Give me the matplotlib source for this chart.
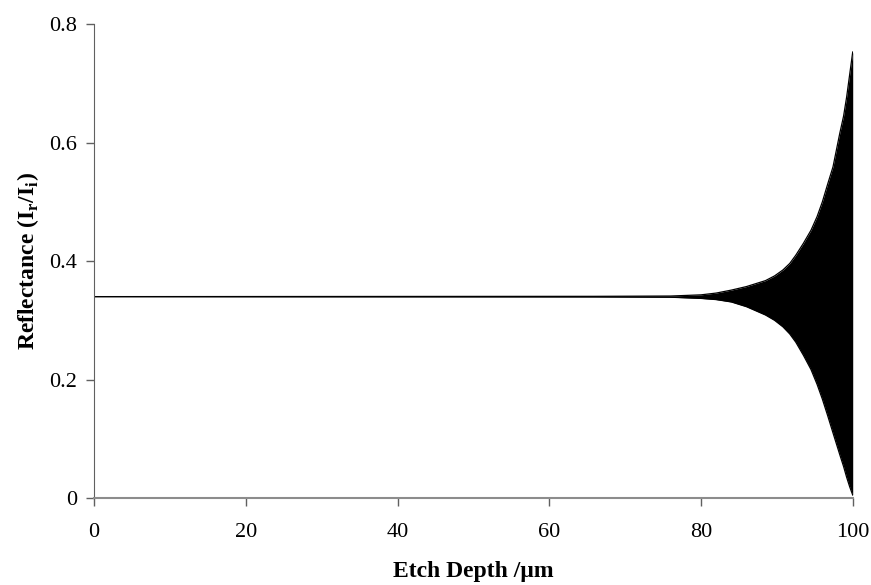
import matplotlib.pyplot as plt
import numpy as np

# envelope of the reflectance oscillation vs etch depth
depth = [0, 66, 76, 80, 82, 84, 86, 88.5, 89.7, 90.8, 91.7, 92.5, 93.5, 94.5,
         95.3, 96, 96.7, 97.4, 98.3, 98.8, 99.2, 99.6, 100]
r_max = [0.34, 0.3405, 0.341, 0.343, 0.346, 0.351, 0.357, 0.367, 0.375, 0.385, 0.396,
         0.41, 0.43, 0.452, 0.475, 0.50, 0.53, 0.559, 0.616, 0.645, 0.677, 0.715, 0.753]
r_min = [0.34, 0.3395, 0.339, 0.337, 0.335, 0.331, 0.323, 0.309, 0.300, 0.289, 0.277,
         0.263, 0.241, 0.217, 0.192, 0.167, 0.139, 0.110, 0.073, 0.053, 0.035, 0.019, 0.005]

x_ticks = [0, 20, 40, 60, 80, 100]
y_ticks = [0, 0.2, 0.4, 0.6, 0.8]
y_labels = ["0", "0.2", "0.4", "0.6", "0.8"]

plt.rcParams["font.family"] = ["Liberation Serif", "DejaVu Serif"]
plt.rcParams["mathtext.fontset"] = "custom"
plt.rcParams["mathtext.rm"] = "Liberation Serif"
plt.rcParams["mathtext.bf"] = "Liberation Serif:bold"

fig = plt.figure(figsize=(8.71, 5.85), dpi=100)
ax = fig.add_axes([0.108, 0.1487, 0.871, 0.81])

ax.fill_between(depth, r_min, r_max, color="black", linewidth=0)
ax.plot(depth, r_max, color="black", linewidth=0.9)
ax.plot(depth, r_min, color="black", linewidth=0.9)

ax.set_xlim(0, 100)
ax.set_ylim(0, 0.8)
ax.set_xticks(x_ticks)
ax.set_yticks(y_ticks)
ax.set_yticklabels(y_labels)

for s in ["top", "right"]:
    ax.spines[s].set_visible(False)
ax.spines["left"].set_color("#606060")
ax.spines["bottom"].set_color("#8c8c8c")
ax.spines["bottom"].set_linewidth(1.5)
ax.tick_params(axis="both", direction="out", length=6, width=1, colors="#606060",
               labelcolor="black", labelsize=16, pad=6)
ax.tick_params(axis="x", pad=12)

ax.set_xlabel("Etch Depth /\u03bcm", fontsize=17, fontweight="bold", labelpad=14)
ax.set_ylabel(r"Reflectance (I$_{\mathbf{r}}$/I$_{\mathbf{i}}$)", fontsize=17,
              fontweight="bold", labelpad=6)

fig.savefig("out.png", dpi=100)
